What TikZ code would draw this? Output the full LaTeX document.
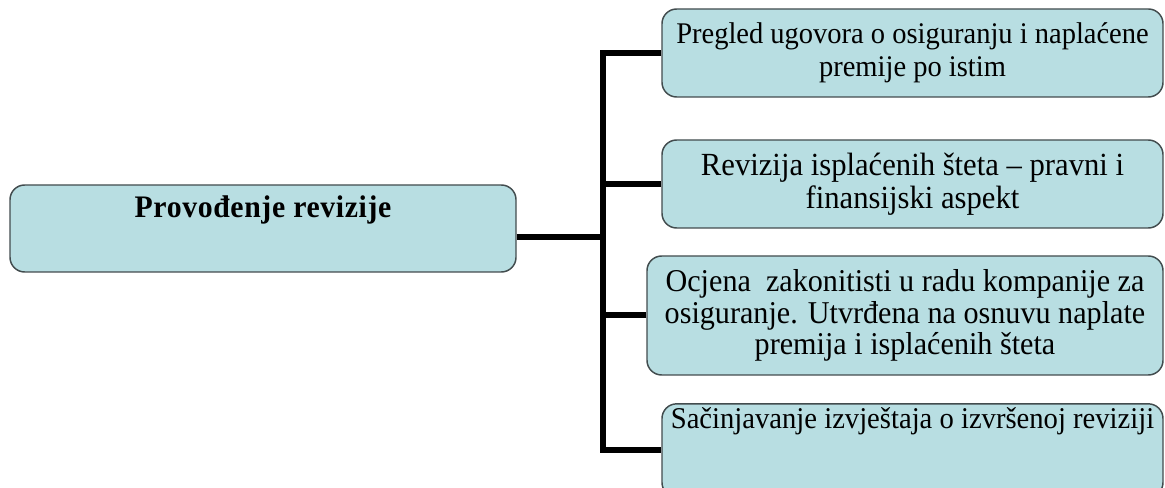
\documentclass[tikz,border=0pt]{standalone}
\usepackage{fontspec}
\setmainfont{Liberation Serif}[FakeStretch=0.95]

\begin{document}
\begin{tikzpicture}[x=0.75pt,y=0.75pt,yscale=-1,xscale=1,
	stagebox/.style={draw={rgb, 255:red, 66; green, 76; blue, 78 }, line width=1.1pt, fill={rgb, 255:red, 184; green, 222; blue, 226 }, rounded corners=11pt, align=center, inner sep=2pt, minimum width=375.75pt, minimum height=66pt, font=\fontsize{22.5pt}{24.75pt}\selectfont},
	rootbox/.style={stagebox, minimum width=379.5pt, minimum height=65.25pt, font=\fontsize{23.5pt}{28pt}\selectfont\bfseries\addfontfeature{LetterSpace=2}},
	branch/.style={line width=4.5pt}]
	\useasboundingbox (0,0) rectangle (1165,488);
	
	% Text Node
	\node [rootbox] (root) at (263,228.5) {Provođenje revizije\\[5.2pt]\mbox{}};
	% Text Node
	\node [stagebox] (pregled) at (912.5,53) {Pregled ugovora o osiguranju i naplaćene\\premije po istim};
	% Text Node
	\node [stagebox, font=\fontsize{24.2pt}{24.75pt}\selectfont] (stete) at (912.5,184) {Revizija isplaćenih šteta – pravni i\\finansijski aspekt};
	% Text Node
	\node [stagebox, minimum width=387pt, minimum height=89.25pt, font=\fontsize{23.8pt}{23.6pt}\selectfont] (ocjena) at (905,315.5) {Ocjena\ \ zakonitisti u radu kompanije za\\osiguranje. Utvrđena na osnuvu naplate\\premija i isplaćenih šteta};
	% Text Node
	\node [stagebox, minimum height=70pt, font=\fontsize{22.6pt}{24.75pt}\selectfont] (izvjestaj) at (912.5,450.5) {Sačinjavanje izvještaja o izvršenoj reviziji\\[24pt]\mbox{}};
	
	\coordinate (spine) at (603,237);
	%Straight Lines
	\draw [branch] (root.east |- spine) -- (spine);
	\draw [branch] (pregled.west) -| (spine) |- (izvjestaj.west);
	\draw [branch] (stete.west) -- (stete.west -| spine);
	\draw [branch] (ocjena.west) -- (ocjena.west -| spine);
	
\end{tikzpicture}
\end{document}
